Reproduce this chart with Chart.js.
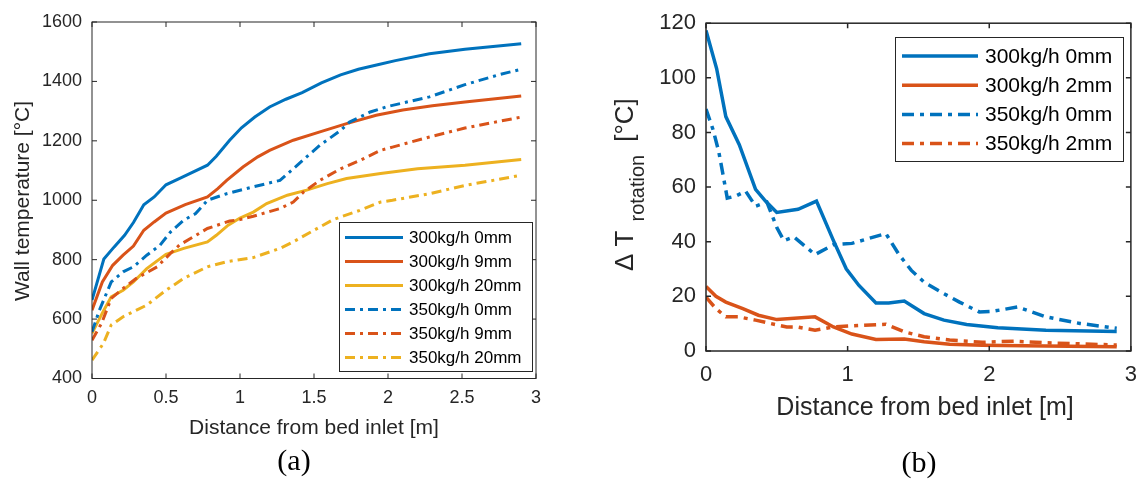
<!DOCTYPE html>
<html lang="en">
<head>
  <meta charset="UTF-8">
  <title>Wall temperature and rotation difference</title>
  <style>
    body {
      margin: 0;
      background-color: #fff;
    }
    .wrap {
      position: relative;
      width: 1148px;
      height: 479px;
    }
    canvas {
      position: absolute;
      left: 0;
      top: 0;
    }
  </style>
</head>
<body>
  <div class="wrap">
    <canvas id="chartA" width="1148" height="479"></canvas>
    <canvas id="chartB" width="1148" height="479"></canvas>
  </div>
  <script src="https://cdn.jsdelivr.net/npm/chart.js"></script>
  <script>
    // ---- (a) wall temperature ----
    var labelsA = ['300kg/h 0mm', '300kg/h 9mm', '300kg/h 20mm', '350kg/h 0mm', '350kg/h 9mm', '350kg/h 20mm'];

    var xA300_0 = [0, 0.08, 0.15, 0.22, 0.28, 0.35, 0.42, 0.5, 0.6, 0.78, 0.84, 0.93, 1.01, 1.1, 1.2, 1.31, 1.42, 1.55, 1.68, 1.8, 1.93, 2.05, 2.28, 2.52, 2.9];
    var yA300_0 = [664, 802, 843, 882, 925, 985, 1011, 1052, 1075, 1118, 1148, 1202, 1244, 1280, 1314, 1340, 1362, 1395, 1422, 1441, 1456, 1470, 1493, 1508, 1527];

    var xA300_9 = [0, 0.07, 0.14, 0.21, 0.28, 0.35, 0.42, 0.5, 0.63, 0.78, 0.85, 0.91, 1.02, 1.12, 1.2, 1.36, 1.54, 1.72, 1.92, 2.1, 2.3, 2.52, 2.9];
    var yA300_9 = [630, 725, 781, 815, 846, 899, 927, 957, 985, 1011, 1039, 1067, 1112, 1146, 1168, 1202, 1230, 1258, 1286, 1304, 1318, 1331, 1351];

    var xA300_20 = [0, 0.08, 0.13, 0.21, 0.28, 0.37, 0.5, 0.62, 0.78, 0.84, 0.92, 1.0, 1.09, 1.18, 1.32, 1.45, 1.59, 1.72, 1.95, 2.2, 2.52, 2.9];
    var yA300_20 = [552, 630, 675, 697, 725, 770, 818, 838, 860, 882, 916, 940, 960, 989, 1017, 1034, 1056, 1073, 1090, 1106, 1118, 1137];

    var xA350_0 = [0, 0.05, 0.13, 0.21, 0.28, 0.37, 0.46, 0.53, 0.62, 0.7, 0.78, 0.91, 1.09, 1.27, 1.36, 1.45, 1.54, 1.68, 1.74, 1.88, 2.0, 2.28, 2.52, 2.76, 2.9];
    var yA350_0 = [557, 630, 725, 759, 776, 815, 849, 893, 933, 955, 1000, 1022, 1045, 1067, 1106, 1146, 1185, 1235, 1263, 1297, 1316, 1348, 1389, 1424, 1441];

    var xA350_9 = [0, 0.065, 0.13, 0.21, 0.3, 0.44, 0.53, 0.59, 0.78, 0.93, 1.0, 1.09, 1.27, 1.36, 1.43, 1.54, 1.68, 1.81, 1.95, 2.03, 2.28, 2.52, 2.9];
    var yA350_9 = [529, 586, 670, 703, 737, 776, 821, 849, 905, 930, 935, 946, 972, 994, 1028, 1067, 1106, 1134, 1168, 1179, 1213, 1243, 1280];

    var xA350_20 = [0, 0.077, 0.13, 0.21, 0.37, 0.5, 0.62, 0.78, 0.91, 1.09, 1.27, 1.36, 1.5, 1.63, 1.81, 1.95, 2.03, 2.28, 2.52, 2.9];
    var yA350_20 = [462, 518, 580, 608, 647, 697, 737, 776, 793, 807, 838, 860, 899, 935, 966, 994, 1000, 1022, 1050, 1084];

    // ---- (b) rotation temperature difference ----
    var labelsB = ['300kg/h 0mm', '300kg/h 2mm', '350kg/h 0mm', '350kg/h 2mm'];

    var xB300_0 = [0, 0.075, 0.14, 0.235, 0.35, 0.42, 0.5, 0.65, 0.78, 0.9, 0.99, 1.08, 1.2, 1.29, 1.4, 1.54, 1.68, 1.84, 2.06, 2.4, 2.9];
    var yB300_0 = [117.3, 103.4, 85.8, 75.5, 59.2, 54.9, 50.7, 51.9, 54.9, 40.4, 30.1, 24, 17.6, 17.6, 18.3, 13.7, 11.3, 9.7, 8.5, 7.6, 7.1];

    var xB300_2 = [0, 0.07, 0.14, 0.26, 0.37, 0.5, 0.77, 0.9, 1.03, 1.2, 1.4, 1.54, 1.72, 1.95, 2.4, 2.9];
    var yB300_2 = [23.6, 20, 17.9, 15.5, 13.1, 11.5, 12.5, 8.8, 6.2, 4.2, 4.4, 3.4, 2.5, 2.1, 1.8, 1.6];

    var xB350_0 = [0, 0.05, 0.09, 0.12, 0.15, 0.21, 0.28, 0.35, 0.43, 0.5, 0.55, 0.62, 0.77, 0.9, 1.03, 1.27, 1.36, 1.45, 1.54, 1.68, 1.79, 1.93, 2.02, 2.2, 2.27, 2.4, 2.64, 2.9];
    var yB350_0 = [88.6, 81, 73, 64.6, 56, 56.7, 58.5, 53, 54.5, 45.2, 40.4, 41.8, 35.3, 38.9, 39.4, 43, 35.5, 29.5, 25.2, 21, 17.9, 14.3, 14.5, 16.1, 14.9, 12.5, 10.1, 8.3];

    var xB350_2 = [0, 0.07, 0.14, 0.23, 0.35, 0.48, 0.57, 0.64, 0.77, 0.9, 1.03, 1.27, 1.4, 1.54, 1.72, 1.95, 2.18, 2.4, 2.9];
    var yB350_2 = [19.7, 15.5, 12.5, 12.5, 11.3, 9.8, 8.8, 8.8, 7.6, 8.8, 9.2, 9.8, 7, 5.2, 4, 3.2, 3.6, 3, 2.2];

    var blue = '#0072BD';
    var orange = '#D95319';
    var yellow = '#EDB120';
    var dashDot = [10, 5, 3, 5];
    var textColor = '#262626';
    var sans = '"Liberation Sans", Arial, sans-serif';
    var serif = '"Liberation Serif", "Times New Roman", serif';

    function pts(xs, ys) {
      return xs.map(function(x, i) { return { x: x, y: ys[i] }; });
    }

    function series(label, xs, ys, color, dash, width, idx, n) {
      return {
        label: label,
        data: pts(xs, ys),
        borderColor: color,
        borderWidth: width,
        borderDash: dash,
        pointRadius: 0,
        tension: 0,
        fill: false,
        order: n - idx
      };
    }

    // things drawn around the axes (box, inward ticks, legend, titles)
    var decor = {
      chartA: {
        tickLen: 5, frameWidth: 1,
        legend: { x: 339, y: 222, w: 193, h: 149, x0: 345, x1: 403, tx: 409, row0: 237.5, step: 24, font: '17px ' + sans },
        texts: [
          { text: 'Distance from bed inlet [m]', x: 314, y: 428, font: '21px ' + sans },
          { text: 'Wall temperature [°C]', x: 23, y: 201, font: '21px ' + sans, rotate: true },
          { text: '(a)', x: 294, y: 462, font: '30px ' + serif }
        ]
      },
      chartB: {
        tickLen: 5, frameWidth: 1.5,
        legend: { x: 895, y: 37, w: 228, h: 124, x0: 902, x1: 978, tx: 985, row0: 56, step: 29.2, font: '21px ' + sans },
        texts: [
          { text: 'Distance from bed inlet [m]', x: 925, y: 408, font: '25px ' + sans },
          { text: '(b)', x: 919, y: 464, font: '30px ' + serif }
        ],
        subTitle: { x: 633, y: 271 }
      }
    };

    var matlabFrame = {
      id: 'matlabFrame',
      afterDatasetsDraw: function(chart) {
        var d = decor[chart.canvas.id];
        var ctx = chart.ctx;
        var a = chart.chartArea;
        var xs = chart.scales.x;
        var ys = chart.scales.y;
        ctx.save();

        // box and ticks pointing inside on all four sides
        ctx.strokeStyle = textColor;
        ctx.lineWidth = d.frameWidth;
        ctx.strokeRect(a.left, a.top, a.right - a.left, a.bottom - a.top);
        ctx.beginPath();
        xs.ticks.forEach(function(t) {
          var px = xs.getPixelForValue(t.value);
          ctx.moveTo(px, a.bottom); ctx.lineTo(px, a.bottom - d.tickLen);
          ctx.moveTo(px, a.top); ctx.lineTo(px, a.top + d.tickLen);
        });
        ys.ticks.forEach(function(t) {
          var py = ys.getPixelForValue(t.value);
          ctx.moveTo(a.left, py); ctx.lineTo(a.left + d.tickLen, py);
          ctx.moveTo(a.right, py); ctx.lineTo(a.right - d.tickLen, py);
        });
        ctx.stroke();

        // legend box
        var lg = d.legend;
        ctx.fillStyle = '#fff';
        ctx.fillRect(lg.x, lg.y, lg.w, lg.h);
        ctx.lineWidth = 1;
        ctx.strokeStyle = textColor;
        ctx.strokeRect(lg.x + 0.5, lg.y + 0.5, lg.w, lg.h);
        chart.data.datasets.forEach(function(ds, i) {
          var y = lg.row0 + i * lg.step;
          ctx.beginPath();
          ctx.setLineDash(ds.borderDash || []);
          ctx.strokeStyle = ds.borderColor;
          ctx.lineWidth = ds.borderWidth;
          ctx.moveTo(lg.x0, y);
          ctx.lineTo(lg.x1, y);
          ctx.stroke();
          ctx.setLineDash([]);
          ctx.fillStyle = '#000';
          ctx.font = lg.font;
          ctx.textAlign = 'left';
          ctx.textBaseline = 'middle';
          ctx.fillText(ds.label, lg.tx, y + 1);
        });

        // axis titles and captions
        ctx.fillStyle = textColor;
        d.texts.forEach(function(t) {
          ctx.save();
          ctx.font = t.font;
          ctx.textAlign = 'center';
          ctx.textBaseline = 'middle';
          ctx.fillStyle = t.font.indexOf('Serif') >= 0 ? '#000' : textColor;
          ctx.translate(t.x, t.y);
          if (t.rotate) ctx.rotate(-Math.PI / 2);
          ctx.fillText(t.text, 0, 0);
          ctx.restore();
        });

        // Δ T_rotation [°C] with subscript
        if (d.subTitle) {
          ctx.save();
          ctx.translate(d.subTitle.x, d.subTitle.y);
          ctx.rotate(-Math.PI / 2);
          ctx.textAlign = 'left';
          ctx.textBaseline = 'alphabetic';
          ctx.font = '26px ' + sans;
          ctx.fillText('Δ T', 0, 0);
          var pos = ctx.measureText('Δ T').width + 9;
          ctx.font = '20px ' + sans;
          ctx.fillText('rotation', pos, 11);
          pos += ctx.measureText('rotation').width + 13;
          ctx.font = '26px ' + sans;
          ctx.fillText('[°C]', pos, 0);
          ctx.restore();
        }

        ctx.restore();
      }
    };

    function axis(min, max, step, fontSize, pad, fitKey, fitVal) {
      return {
        type: 'linear',
        min: min,
        max: max,
        grid: { display: false, drawTicks: false },
        border: { display: false },
        ticks: {
          stepSize: step,
          color: textColor,
          font: { family: sans, size: fontSize },
          padding: pad,
          callback: function(v) { return String(v); }
        },
        afterFit: function(scale) { scale[fitKey] = fitVal; }
      };
    }

    var datasetsA = [
      series(labelsA[0], xA300_0, yA300_0, blue, [], 3, 0, 6),
      series(labelsA[1], xA300_9, yA300_9, orange, [], 3, 1, 6),
      series(labelsA[2], xA300_20, yA300_20, yellow, [], 3, 2, 6),
      series(labelsA[3], xA350_0, yA350_0, blue, dashDot, 3, 3, 6),
      series(labelsA[4], xA350_9, yA350_9, orange, dashDot, 3, 4, 6),
      series(labelsA[5], xA350_20, yA350_20, yellow, dashDot, 3, 5, 6)
    ];

    new Chart(document.getElementById('chartA'), {
      type: 'line',
      data: { datasets: datasetsA },
      options: {
        responsive: false,
        animation: false,
        layout: { padding: { left: 0, right: 612, top: 22, bottom: 0 } },
        plugins: { legend: { display: false }, tooltip: { enabled: false } },
        scales: {
          x: axis(0, 3, 0.5, 18, 9, 'height', 100.5),
          y: axis(400, 1600, 200, 18, 10, 'width', 92)
        }
      },
      plugins: [matlabFrame]
    });

    var datasetsB = [
      series(labelsB[0], xB300_0, yB300_0, blue, [], 3.5, 0, 4),
      series(labelsB[1], xB300_2, yB300_2, orange, [], 3.5, 1, 4),
      series(labelsB[2], xB350_0, yB350_0, blue, [12, 6, 4, 6], 3.5, 2, 4),
      series(labelsB[3], xB350_2, yB350_2, orange, [12, 6, 4, 6], 3.5, 3, 4)
    ];

    new Chart(document.getElementById('chartB'), {
      type: 'line',
      data: { datasets: datasetsB },
      options: {
        responsive: false,
        animation: false,
        layout: { padding: { left: 0, right: 5, top: 21, bottom: 0 } },
        plugins: { legend: { display: false }, tooltip: { enabled: false } },
        scales: {
          x: axis(0, 3, 1, 22, 11, 'height', 128),
          y: axis(0, 120, 20, 22, 10, 'width', 706)
        }
      },
      plugins: [matlabFrame]
    });
  </script>
</body>
</html>
